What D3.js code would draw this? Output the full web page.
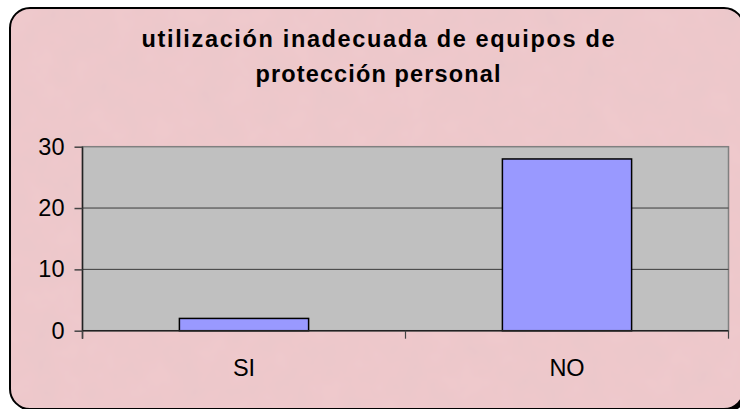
<!DOCTYPE html>
<html><head><meta charset="utf-8">
<script src="https://cdn.jsdelivr.net/npm/d3@7"></script>
<style>html,body{margin:0;padding:0;background:#fff;}svg{display:block;}</style>
</head><body>
<script>
const categories = ["SI", "NO"];
const values = [2, 28];
const yTicks = [0, 10, 20, 30];
const titleLines = ["utilización inadecuada de equipos de", "protección personal"];

const W = 740, H = 409;
const FONT = "'Liberation Sans', Arial, sans-serif";
const svg = d3.select("body").append("svg").attr("width", W).attr("height", H);
const defs = svg.append("defs");
const f = defs.append("filter").attr("id", "tex").attr("x", 0).attr("y", 0).attr("width", 1).attr("height", 1);
f.append("feTurbulence").attr("type", "fractalNoise").attr("baseFrequency", 0.035).attr("numOctaves", 3).attr("seed", 4).attr("result", "n");
f.append("feColorMatrix").attr("in", "n").attr("type", "matrix")
  .attr("values", "0 0 0 0 0.75  0 0 0 0 0.55  0 0 0 0 0.58  0 0 0 0.5 -0.12").attr("result", "c");
f.append("feComposite").attr("in", "c").attr("in2", "SourceGraphic").attr("operator", "atop");

// shadow + frame
svg.append("rect").attr("x", 13).attr("y", 11).attr("width", 734).attr("height", 401).attr("rx", 20).attr("fill", "#000");
svg.append("rect").attr("x", 10).attr("y", 8).attr("width", 734).attr("height", 401).attr("rx", 20)
  .attr("fill", "#efc9cc").attr("filter", "url(#tex)");
svg.append("rect").attr("x", 10).attr("y", 8).attr("width", 734).attr("height", 401).attr("rx", 20)
  .attr("fill", "none").attr("stroke", "#000").attr("stroke-width", 2);

// title
const tl = [{t: titleLines[0], y: 47, len: 473}, {t: titleLines[1], y: 82, len: 245}];
svg.selectAll("text.title").data(tl).enter().append("text").attr("class", "title")
  .attr("x", 378).attr("y", d => d.y).attr("text-anchor", "middle")
  .attr("font-family", FONT).attr("font-weight", "bold").attr("font-size", 23.5)
  .attr("textLength", d => d.len).attr("lengthAdjust", "spacing")
  .text(d => d.t);

const plot = {l: 82.5, r: 728.5, t: 146.7, b: 330.7};
const x = d3.scaleBand().domain(categories).range([plot.l, plot.r]).paddingInner(0.6).paddingOuter(0.3);
const xb = d3.scaleBand().domain(categories).range([plot.l, plot.r]);
const y = d3.scaleLinear().domain([0, 30]).range([plot.b, plot.t]);

svg.append("rect").attr("x", plot.l).attr("y", plot.t).attr("width", plot.r - plot.l).attr("height", plot.b - plot.t)
  .attr("fill", "#c0c0c0").attr("stroke", "#808080").attr("stroke-width", 1.5);

// grid
svg.selectAll("line.grid").data(yTicks.filter(v => v > 0 && v < 30)).enter().append("line")
  .attr("x1", plot.l).attr("x2", plot.r).attr("y1", d => y(d)).attr("y2", d => y(d))
  .attr("stroke", "#3a3a3a").attr("stroke-width", 1);

// bars
svg.selectAll("rect.bar").data(values).enter().append("rect")
  .attr("x", (d, i) => x(categories[i])).attr("width", x.bandwidth())
  .attr("y", d => y(d)).attr("height", d => plot.b - y(d))
  .attr("fill", "#9999ff").attr("stroke", "#000").attr("stroke-width", 1.5);

// y axis
const ya = svg.append("g").attr("transform", `translate(${plot.l},0)`)
  .call(d3.axisLeft(y).tickValues(yTicks).tickSize(8).tickPadding(10).tickFormat(d3.format("d")));
ya.select(".domain").attr("stroke", "#222").attr("stroke-width", 1.5).attr("d", `M-0,${plot.t}V${plot.b + 8}`);
ya.selectAll(".tick line").attr("stroke", "#444").attr("stroke-width", 1.5);
ya.selectAll("text").attr("font-family", FONT).attr("font-size", 23.5).attr("fill", "#000");

// x axis
const xa = svg.append("g").attr("transform", `translate(0,${plot.b})`)
  .call(d3.axisBottom(xb).tickSize(0).tickPadding(29));
xa.select(".domain").attr("stroke", "#222").attr("stroke-width", 1.5).attr("d", `M${plot.l},0H${plot.r}`);
xa.selectAll("text").attr("font-family", FONT).attr("font-size", 23.5).attr("fill", "#000");
const xt = [plot.l, (plot.l + plot.r) / 2, plot.r];
svg.selectAll("line.xt").data(xt).enter().append("line")
  .attr("x1", d => d).attr("x2", d => d).attr("y1", plot.b).attr("y2", plot.b + 8)
  .attr("stroke", "#444").attr("stroke-width", 1.2);
</script>
</body></html>
